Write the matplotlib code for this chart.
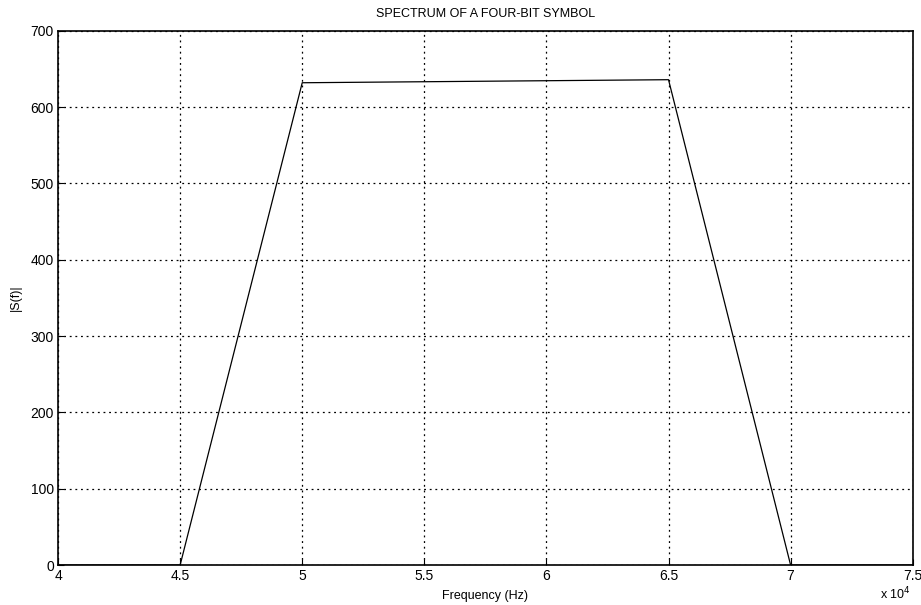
import matplotlib
matplotlib.use("Agg")
import matplotlib.pyplot as plt

plt.rcParams['font.family'] = ['Liberation Sans', 'DejaVu Sans']

freq = [40000, 45000, 50000, 65000, 70000, 75000]
mag = [0, 0, 632, 636, 0, 0]
xticks = [40000, 45000, 50000, 55000, 60000, 65000, 70000, 75000]
xticklabels = ["4", "4.5", "5", "5.5", "6", "6.5", "7", "7.5"]
yticks = [0, 100, 200, 300, 400, 500, 600, 700]

fig = plt.figure(figsize=(9.21, 6.05), dpi=100)
ax = fig.add_axes([0.063, 0.066, 0.928, 0.883])
ax.plot(freq, mag, color='black', linewidth=0.9)
ax.set_xlim(40000, 75000)
ax.set_ylim(0, 700)
ax.set_xticks(xticks)
ax.set_xticklabels(xticklabels)
ax.set_yticks(yticks)
ax.grid(True, color='black', linestyle=(0, (1.5, 3)), linewidth=0.9)
for s in ax.spines.values():
    s.set_linewidth(1.2)
ax.tick_params(direction='in', length=4, labelsize=10, pad=3)
ax.set_title("SPECTRUM OF A FOUR-BIT SYMBOL", fontsize=9, pad=10)
ax.set_xlabel("Frequency (Hz)", fontsize=9, labelpad=5)
ax.set_ylabel("|S(f)|", fontsize=9, labelpad=6)
fig.text(0.972, 0.004, r"x 10$^{4}$", fontsize=9, ha='center', va='bottom')
fig.savefig("out.png", dpi=100)
